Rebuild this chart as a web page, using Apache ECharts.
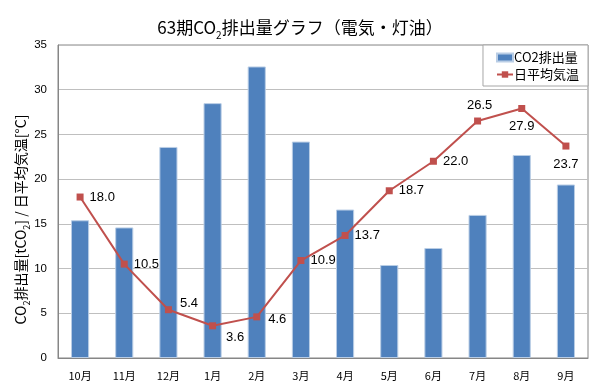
<!DOCTYPE html>
<html>
<head>
<meta charset="utf-8">
<script src="https://cdn.jsdelivr.net/npm/echarts@6/dist/echarts.min.js"></script>
<style>
html,body{margin:0;padding:0;background:#fff;}
#c{width:600px;height:392px;}
</style>
</head>
<body>
<div id="c"></div>
<script>
const categories = ['10月','11月','12月','1月','2月','3月','4月','5月','6月','7月','8月','9月'];
const co2Values = [15.4, 14.6, 23.6, 28.5, 32.6, 24.2, 16.6, 10.4, 12.3, 16.0, 22.7, 19.4];
const tempValues = [18.0, 10.5, 5.4, 3.6, 4.6, 10.9, 13.7, 18.7, 22.0, 26.5, 27.9, 23.7];
const yTicks = [0, 5, 10, 15, 20, 25, 30, 35];

const FONT = '"Liberation Sans", "Noto Sans CJK JP", sans-serif';
const JFONT = '"Noto Sans CJK JP", sans-serif';

// label placement per point (style only)
const labelPos = ['right','right','right','bottomRight','right','right','right','right','right','top','bottom','bottom'];

const tempData = tempValues.map((v, i) => {
  const p = labelPos[i];
  let label = { position: 'right', distance: 6 };
  if (p === 'bottomRight') label = { position: 'right', distance: 8, offset: [2, 12] };
  if (p === 'top') label = { position: 'top', distance: 6, offset: [2, 0] };
  if (p === 'bottom') label = { position: 'bottom', distance: 8 };
  if (i === 2) label = { position: 'right', distance: 8, offset: [0, -6] };
  if (i === 4) label = { position: 'right', distance: 8, offset: [0, 3] };
  return { value: v, label: label };
});

const chart = echarts.init(document.getElementById('c'), null, { renderer: 'canvas' });
chart.setOption({
  backgroundColor: '#fff',
  animation: false,
  title: {
    text: '{a|63期CO}{s|2}{a|排出量グラフ（電気・灯油）}',
    left: 'center',
    top: 9,
    textStyle: {
      fontWeight: 'normal',
      rich: {
        a: { fontSize: 17, fontWeight: 'normal', color: '#000', fontFamily: JFONT, lineHeight: 22, verticalAlign: 'bottom' },
        s: { fontSize: 10, fontWeight: 'normal', color: '#000', fontFamily: JFONT, lineHeight: 22, verticalAlign: 'bottom', padding: [0,0,-4,0] }
      }
    }
  },
  legend: {
    right: 12,
    top: 45,
    orient: 'vertical',
    itemGap: 2,
    itemWidth: 16,
    itemHeight: 8,
    backgroundColor: '#fff',
    borderColor: '#a6a6a6',
    borderWidth: 1,
    borderRadius: 0,
    padding: [5, 9, 4, 13],
    textStyle: { fontSize: 13, color: '#000', fontFamily: JFONT, lineHeight: 15, padding: [0,0,0,-4] },
    data: [
      { name: 'CO2排出量', icon: 'rect' },
      { name: '日平均気温' }
    ]
  },
  grid: {
    left: 58, right: 12, top: 45, bottom: 34,
    containLabel: false,
    outerBoundsMode: 'none',
    show: true, borderColor: '#868686', borderWidth: 1, backgroundColor: 'transparent'
  },
  xAxis: {
    type: 'category',
    data: categories,
    boundaryGap: true,
    axisLine: { lineStyle: { color: '#868686' } },
    axisTick: { inside: true, length: 5, lineStyle: { color: '#868686' } },
    axisLabel: { fontSize: 11, color: '#000', fontFamily: JFONT, margin: 12 }
  },
  yAxis: {
    type: 'value',
    min: 0, max: 35, interval: 5,
    name: '{a|CO}{s|2}{a|排出量[tCO}{s|2}{a|] / 日平均気温[°C]}',
    nameLocation: 'middle',
    nameRotate: 90,
    nameGap: 30,
    nameMoveOverlap: false,
    nameTextStyle: {
      padding: [0, 36, 0, 0],
      rich: {
        a: { fontSize: 14, color: '#000', fontFamily: JFONT, lineHeight: 18, verticalAlign: 'bottom' },
        s: { fontSize: 9, color: '#000', fontFamily: JFONT, lineHeight: 18, verticalAlign: 'bottom', padding: [0,0,-3,0] }
      }
    },
    axisLine: { show: true, lineStyle: { color: '#868686' } },
    axisTick: { show: false },
    axisLabel: { fontSize: 11.5, color: '#000', fontFamily: FONT, margin: 11 },
    splitLine: { lineStyle: { color: '#bfbfbf', width: 1 } }
  },
  series: [
    {
      name: 'CO2排出量',
      type: 'bar',
      data: co2Values,
      barWidth: '41%',
      itemStyle: { color: '#4f81bd', borderColor: '#b9cde5', borderWidth: 1 }
    },
    {
      name: '日平均気温',
      type: 'line',
      data: tempData,
      symbol: 'rect',
      symbolSize: 7,
      lineStyle: { color: '#c0504d', width: 2 },
      itemStyle: { color: '#c0504d' },
      label: {
        show: true,
        formatter: p => p.value.toFixed(1),
        fontSize: 13,
        color: '#000',
        fontFamily: FONT
      }
    }
  ]
});
</script>
</body>
</html>
